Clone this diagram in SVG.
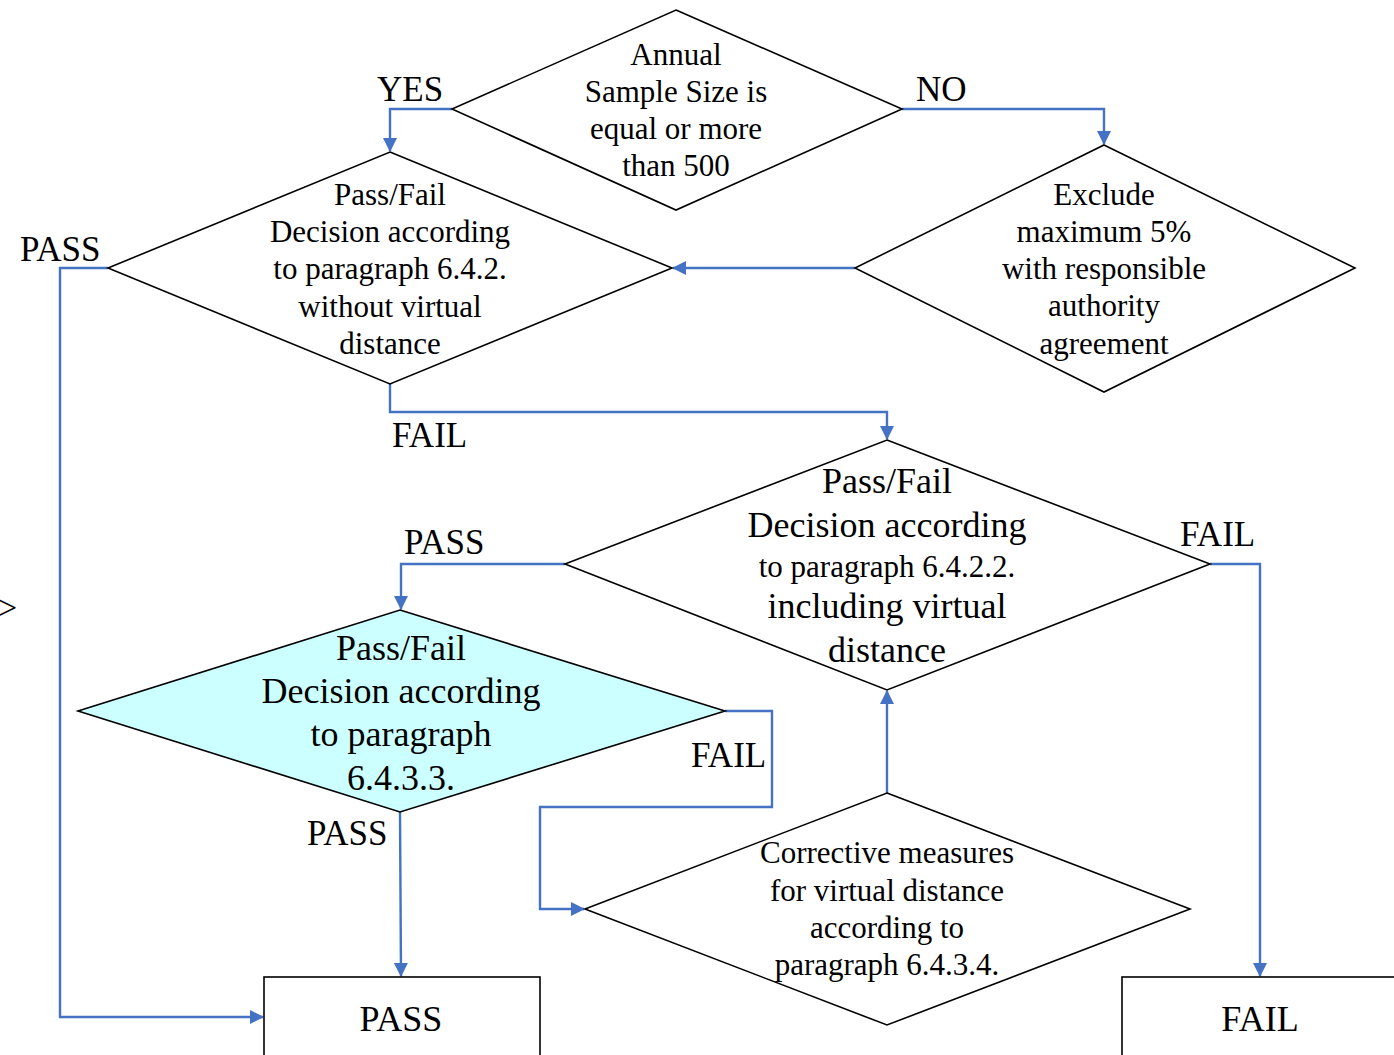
<svg xmlns="http://www.w3.org/2000/svg" width="1394" height="1055" viewBox="0 0 1394 1055">
  <style>
    .shape { fill: #ffffff; stroke: #000000; stroke-width: 1.6; }
    .cyan { fill: #ccffff; }
    .t { font-family: 'Liberation Serif', 'DejaVu Serif', serif; fill: #000000; text-anchor: middle; }
    .s31 { font-size: 31px; }
    .s36 { font-size: 36px; }
    .lbl { font-family: 'Liberation Serif', 'DejaVu Serif', serif; font-size: 35px; fill: #000000; }
    .conn { fill: none; stroke: #4472c4; stroke-width: 2.4; }
  </style>
  <defs>
    <marker id="arrow" viewBox="0 0 14 14" refX="13" refY="7" markerWidth="14" markerHeight="14" markerUnits="userSpaceOnUse" orient="auto">
      <path d="M0,0 L14,7 L0,14 Z" fill="#4472c4"/>
    </marker>
  </defs>

  <rect width="1394" height="1055" fill="#ffffff"/>

  <!-- partial glyph at the left margin -->
  <text class="lbl" x="-2" y="619" style="font-size:34px">&gt;</text>

  <!-- connectors -->
  <g id="connectors">
    <polyline class="conn" points="452,109 390,109 390,151" marker-end="url(#arrow)"/>
    <polyline class="conn" points="902,109 1104,109 1104,144" marker-end="url(#arrow)"/>
    <polyline class="conn" points="855,268 673,268" marker-end="url(#arrow)"/>
    <polyline class="conn" points="108,268 60,268 60,1017 263,1017" marker-end="url(#arrow)"/>
    <polyline class="conn" points="390,384 390,412 887,412 887,439" marker-end="url(#arrow)"/>
    <polyline class="conn" points="565,564 401,564 401,609" marker-end="url(#arrow)"/>
    <polyline class="conn" points="1210,564 1260,564 1260,976" marker-end="url(#arrow)"/>
    <polyline class="conn" points="725,711 772,711 772,807 540,807 540,909 584,909" marker-end="url(#arrow)"/>
    <polyline class="conn" points="887,793 887,691" marker-end="url(#arrow)"/>
    <polyline class="conn" points="400,812 401,976" marker-end="url(#arrow)"/>
  </g>

  <!-- connector labels -->
  <g id="labels">
    <text class="lbl" x="377" y="101">YES</text>
    <text class="lbl" x="916" y="101">NO</text>
    <text class="lbl" x="20" y="261">PASS</text>
    <text class="lbl" x="392" y="447">FAIL</text>
    <text class="lbl" x="404" y="554">PASS</text>
    <text class="lbl" x="1180" y="546">FAIL</text>
    <text class="lbl" x="691" y="767">FAIL</text>
    <text class="lbl" x="307" y="845">PASS</text>
  </g>

  <g id="sample-size">
    <polygon class="shape" points="676,10 902,109 676,210 452,109"/>
    <text class="t s31" x="676" y="65">Annual</text>
    <text class="t s31" x="676" y="102">Sample Size is</text>
    <text class="t s31" x="676" y="139">equal or more</text>
    <text class="t s31" x="676" y="176">than 500</text>
  </g>

  <g id="decision-642">
    <polygon class="shape" points="390,152 672,268 390,384 108,268"/>
    <text class="t s31" x="390" y="205">Pass/Fail</text>
    <text class="t s31" x="390" y="242">Decision according</text>
    <text class="t s31" x="390" y="279">to paragraph 6.4.2.</text>
    <text class="t s31" x="390" y="317">without virtual</text>
    <text class="t s31" x="390" y="354">distance</text>
  </g>

  <g id="exclude">
    <polygon class="shape" points="1104,145 1355,268 1104,392 855,268"/>
    <text class="t s31" x="1104" y="205">Exclude</text>
    <text class="t s31" x="1104" y="242">maximum 5%</text>
    <text class="t s31" x="1104" y="279">with responsible</text>
    <text class="t s31" x="1104" y="316">authority</text>
    <text class="t s31" x="1104" y="354">agreement</text>
  </g>

  <g id="decision-6422">
    <polygon class="shape" points="887,440 1210,564 887,690 565,564"/>
    <text class="t s36" x="887" y="493">Pass/Fail</text>
    <text class="t s36" x="887" y="537">Decision according</text>
    <text class="t s31" x="887" y="577">to paragraph 6.4.2.2.</text>
    <text class="t s36" x="887" y="618">including virtual</text>
    <text class="t s36" x="887" y="662">distance</text>
  </g>

  <g id="decision-6433">
    <polygon class="shape cyan" points="400,610 725,711 400,812 78,711"/>
    <text class="t s36" x="401" y="660">Pass/Fail</text>
    <text class="t s36" x="401" y="703">Decision according</text>
    <text class="t s36" x="401" y="746">to paragraph</text>
    <text class="t s36" x="401" y="790">6.4.3.3.</text>
  </g>

  <g id="corrective">
    <polygon class="shape" points="887,793 1190,909 887,1025 585,909"/>
    <text class="t s31" x="887" y="863">Corrective measures</text>
    <text class="t s31" x="887" y="901">for virtual distance</text>
    <text class="t s31" x="887" y="938">according to</text>
    <text class="t s31" x="887" y="975">paragraph 6.4.3.4.</text>
  </g>

  <g id="pass-box">
    <rect class="shape" x="264" y="977" width="276" height="100"/>
    <text class="t s36" x="401" y="1031">PASS</text>
  </g>

  <g id="fail-box">
    <rect class="shape" x="1122" y="977" width="290" height="100"/>
    <text class="t s36" x="1260" y="1031">FAIL</text>
  </g>
</svg>
